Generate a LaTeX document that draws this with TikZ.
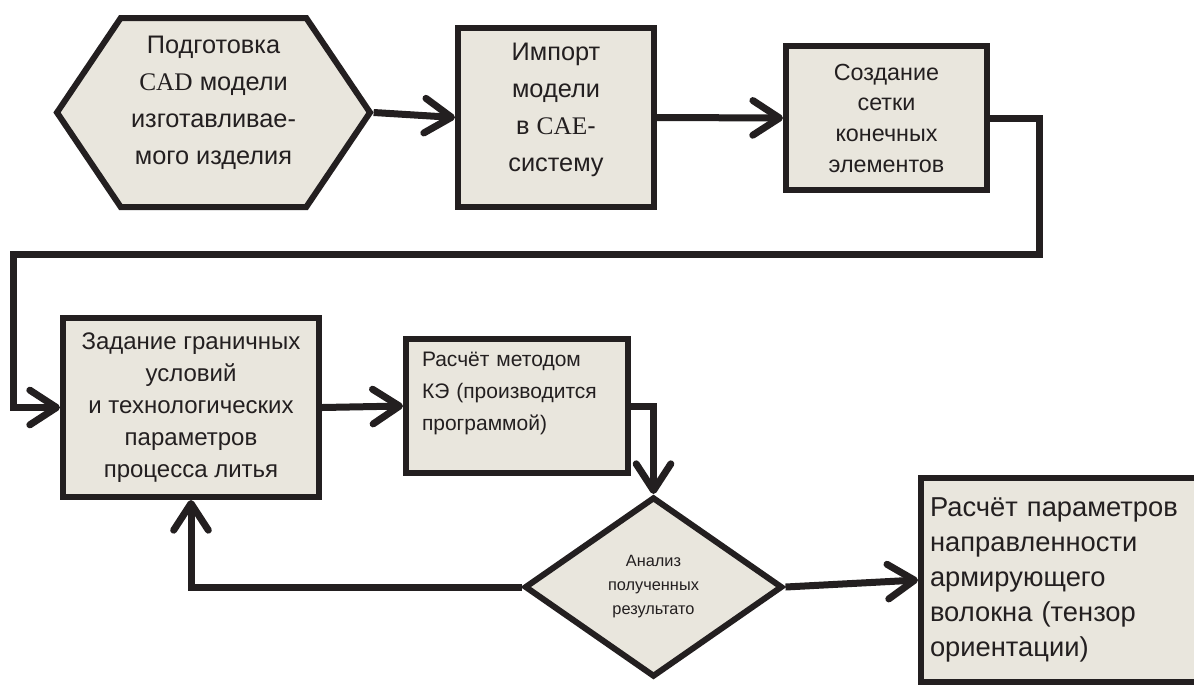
\documentclass[tikz,border=0pt]{standalone}
\usepackage{fontspec}
\setmainfont{Liberation Sans}
\newfontfamily\lserif{Liberation Serif}
\usepackage{tikz}
\usetikzlibrary{shapes.geometric, shapes.symbols, arrows.meta}
\definecolor{ink}{HTML}{231F20}
\definecolor{paper}{HTML}{E9E6DD}
\newcommand{\cadname}{{\lserif CAD}}
\newcommand{\caename}{{\lserif CAE}}

\begin{document}
\begin{tikzpicture}[
        x=0.75pt, y=-0.75pt,
        box/.style={rectangle, draw=ink, line width=4.5pt, fill=paper, text=ink, align=center, inner sep=0pt},
        hexbox/.style={signal, signal to=west and east, signal pointer angle=112, draw=ink, line width=4.5pt, fill=paper, text=ink, align=center, inner sep=0pt},
        decision/.style={diamond, aspect=1.43, draw=ink, line width=4.5pt, fill=paper, text=ink, align=center, inner sep=0pt},
        arrow/.style={-{Straight Barb[length=20pt, width=26pt, round]}, line width=5.25pt, draw=ink},
    ]
        \clip (0,0) rectangle (1194,686);

        \node[hexbox, minimum width=234.75pt, minimum height=141.75pt, font={\fontsize{19pt}{27.75pt}\selectfont}] (prep) at (213.5,112.5) {Подготовка\\\cadname{} модели\\изготавливае-\\мого изделия\\[-10pt]\mbox{}};
        \node[box, minimum width=147pt, minimum height=134.25pt, font={\fontsize{19pt}{27.75pt}\selectfont}] (import) at (556,117.5) {Импорт\\модели\\в \caename-\\систему\\[-12pt]\mbox{}};
        \node[box, minimum width=150.75pt, minimum height=108pt, font={\fontsize{17.5pt}{23pt}\selectfont}] (mesh) at (886.5,118) {Создание\\сетки\\конечных\\элементов};
        \node[box, minimum width=192pt, minimum height=134.25pt, font={\fontsize{18pt}{24pt}\selectfont}] (bounds) at (191,407.5) {Задание граничных\\условий\\и технологических\\параметров\\процесса литья};
        \node[box, minimum width=166.5pt, minimum height=100.5pt, text width=142.5pt, align=left, font={\fontsize{15.75pt}{24pt}\selectfont}] (solve) at (517,406) {Расчёт методом\\КЭ (производится\\программой)\\[-2pt]\mbox{}};
        \node[decision, minimum width=193.5pt, minimum height=135pt, font={\fontsize{12.25pt}{18pt}\selectfont}] (check) at (653.5,587) {Анализ\\полученных\\результато};
        \node[box, minimum width=213pt, minimum height=153pt, text width=199.5pt, align=left, font={\fontsize{20.5pt}{26.25pt}\selectfont}] (orient) at (1063,580) {Расчёт параметров\\направленности\\армирующего\\волокна (тензор\\ориентации)};

        \draw[arrow] (prep.east) -- (import.west);
        \draw[arrow] (import.east) -- (mesh.west);
        \draw[arrow] (mesh.east) -- ++(49,0) |- (13,254) |- (bounds.west);
        \draw[arrow] (bounds.east) -- (solve.west);
        \draw[arrow] (solve.east) -| (check.north);
        \draw[arrow] (check.west) -| (bounds.south);
        \draw[arrow] (check.east) -- (orient.west);
    \end{tikzpicture}
\end{document}
